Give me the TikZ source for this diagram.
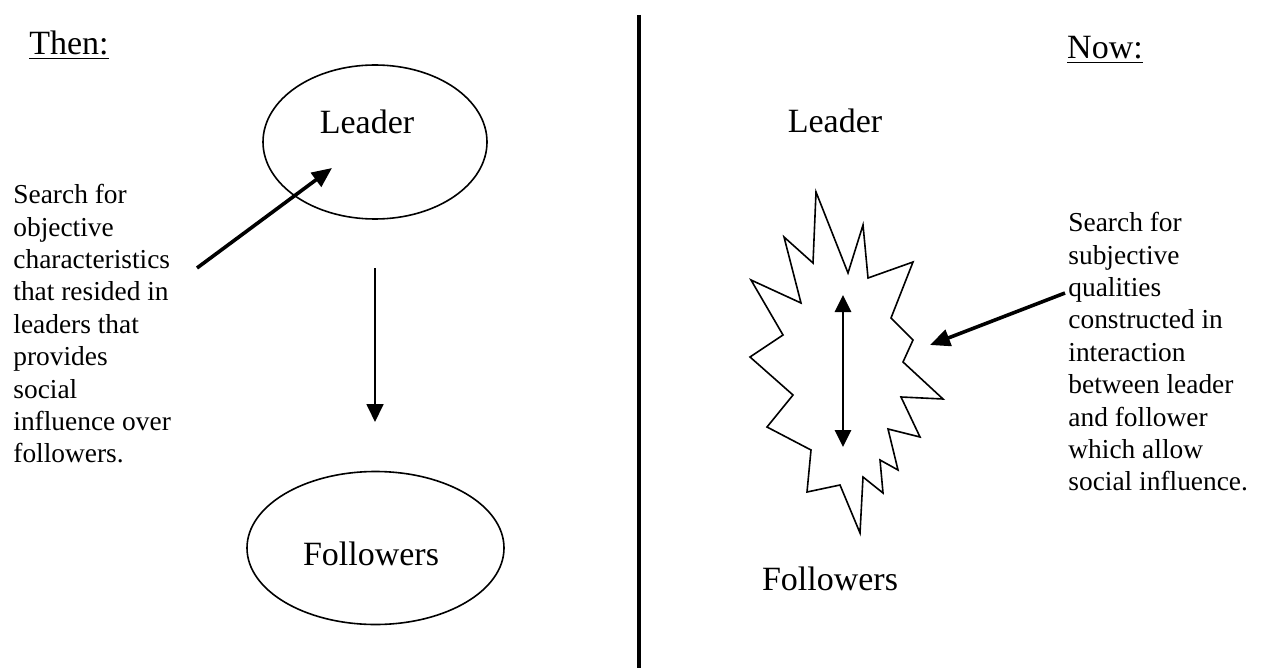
\documentclass[tikz,border=0pt]{standalone}
\usepackage{fontspec}
\setmainfont{Liberation Serif}
\usetikzlibrary{arrows.meta,shapes.geometric}

\tikzset{
  bubble/.style={ellipse, draw, line width=0.8pt, inner sep=0pt},
  bigword/.style={font=\fontsize{17}{20}\selectfont, inner sep=0pt, anchor=base},
  note/.style={font=\fontsize{13.7}{16.2}\selectfont, align=left, anchor=north west, inner sep=0pt},
  thinarrow/.style={line width=0.9pt, -{Triangle[length=9pt,width=8.5pt]}},
  thickarrow/.style={line width=1.8pt, -{Triangle[length=10pt,width=8.5pt]}},
  bothtips/.style={line width=1.4pt, {Triangle[length=8.5pt,width=8pt]}-{Triangle[length=8.5pt,width=8pt]}},
}

\begin{document}
\begin{tikzpicture}[x=0.5pt, y=-0.5pt]
    \useasboundingbox (0,0) rectangle (1261,668);

    % Divider
    \draw[line width=1.6pt] (639,15) -- (639,668);

    % Then: nodes
    \node[bigword] (then) at (69,55) {\underline{Then:}};
    \node[bubble, minimum width=112pt, minimum height=77pt] (leaderA) at (375,142) {};
    \node[bigword] (leaderAtext) at (367,134) {Leader};
    \node[bubble, minimum width=128.5pt, minimum height=76.5pt] (followA) at (375.5,548) {};
    \node[bigword] (followAtext) at (371,565) {Followers};
    \node[note] (objective) at (13,184) {Search for\\objective\\characteristics\\that resided in\\leaders that\\provides\\social\\influence over\\followers.};

    % Then: arrows
    \coordinate (objTail) at (197,268);
    \coordinate (objTip) at (332,168);
    \draw[thickarrow] (objTail) -- (objTip); % points into the leader
    \coordinate (downTop) at (375,268);
    \coordinate (downTip) at (375,422);
    \draw[thinarrow] (downTop) -- (downTip); % leader to followers

    % Now: nodes
    \node[bigword] (now) at (1105,59) {\underline{Now:}};
    \node[bigword] (leaderB) at (835,133) {Leader};
    \node[bigword] (followB) at (830,590) {Followers};
    \node[note] (subjective) at (1068,212) {Search for\\subjective\\qualities\\constructed in\\interaction\\between leader\\and follower\\which allow\\social influence.};

    % Now: the burst
    \draw[line width=0.8pt, line join=miter] (816,192) -- (848,273) -- (863,225) -- (868,278) -- (913,262)
        -- (891,318) -- (913,340) -- (903,362) -- (943,399) -- (901,397) -- (920,437)
        -- (888,429) -- (898,470) -- (880,460) -- (883,493) -- (863,477) -- (860,533)
        -- (840,485) -- (807,492) -- (811,450) -- (767,427) -- (793,395) -- (750,357)
        -- (783,335) -- (751,280) -- (801,303) -- (784,237) -- (813,263) -- cycle;

    % Now: arrows
    \coordinate (burstTop) at (843,295);
    \coordinate (burstBot) at (843,447);
    \draw[bothtips] (burstTop) -- (burstBot);
    \coordinate (noteTail) at (1065,293);
    \coordinate (burstEdge) at (930,345);
    \draw[thickarrow] (noteTail) -- (burstEdge);
\end{tikzpicture}
\end{document}
